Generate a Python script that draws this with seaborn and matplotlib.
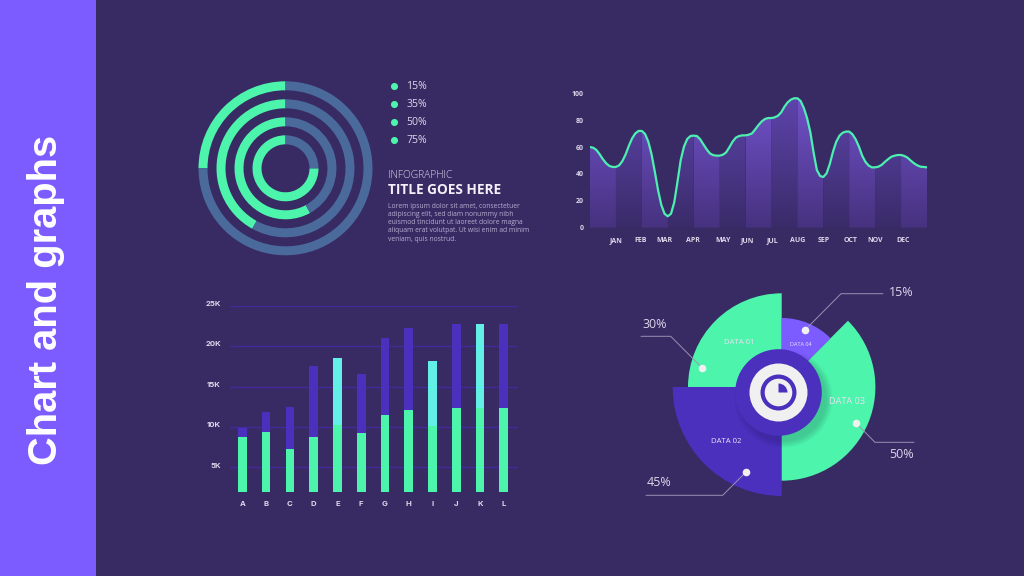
import numpy as np
import matplotlib
matplotlib.use("Agg")
import matplotlib.pyplot as plt
from matplotlib.colors import LinearSegmentedColormap
from matplotlib.patches import Circle, Rectangle
from matplotlib.transforms import ScaledTranslation
import seaborn as sns

# ring chart
ring_labels = ["15%", "35%", "50%", "75%"]
ring_share = [25, 42, 58, 75]
ring_outer = [87, 69, 51, 33]

# area chart, read every eighth of a month
month_labels = ["JAN", "FEB", "MAR", "APR", "MAY", "JUN", "JUL", "AUG", "SEP", "OCT", "NOV", "DEC"]
month_ticks = [1.0, 1.95, 2.88, 3.96, 5.12, 6.07, 7.04, 7.99, 9.01, 10.04, 11.0, 12.06]
curve_values = [
    60.0, 59.5, 57.8, 54.6, 50.9, 47.9, 45.9, 45.2,
    45.2, 46.4, 49.6, 54.6, 61.0, 66.5, 70.2, 72.0,
    72.0, 69.7, 64.0, 54.6, 41.7, 28.0, 17.0, 10.4,
    8.5, 10.4, 18.9, 34.2, 50.4, 60.3, 66.0, 68.2,
    68.5, 68.2, 65.8, 62.0, 58.3, 55.3, 54.0, 53.6,
    53.6, 54.3, 56.0, 59.8, 64.0, 67.0, 68.2, 68.7,
    68.7, 69.2, 70.2, 73.2, 76.4, 79.1, 80.9, 81.6,
    81.6, 82.1, 83.3, 85.8, 90.0, 93.3, 95.3, 96.3,
    96.3, 94.3, 89.0, 81.5, 71.0, 56.0, 43.0, 38.5,
    37.7, 40.4, 47.4, 56.6, 64.0, 68.5, 70.7, 71.5,
    71.5, 69.5, 65.7, 60.3, 53.6, 49.0, 46.2, 44.9,
    44.9, 45.4, 46.7, 49.0, 51.0, 52.8, 53.6, 54.1,
    54.1, 53.4, 52.1, 49.9, 47.9, 46.4, 45.4, 45.2,
    44.9,
]

# stacked bars
bar_labels = list("ABCDEFGHIJKL")
bar_lower = [8.8, 9.4, 7.3, 8.8, 10.2, 9.2, 11.5, 12.1, 10.1, 12.3, 12.3, 12.3]
bar_total = [9.9, 11.9, 12.5, 17.5, 18.5, 16.5, 21.0, 22.2, 18.2, 22.7, 22.7, 22.7]
bar_cyan = ["E", "I", "K"]
bar_ticks = [5, 10, 15, 20, 25]

# sector chart
sector_names = ["DATA 01", "DATA 02", "DATA 03", "DATA 04"]
sector_span = [90, 90, 135, 45]
sector_start = [90, 180, 270, 45]
sector_radius = [93.7, 109, 93.7, 69]
sector_pct = ["30%", "45%", "50%", "15%"]

BG = "#382a63"
SIDE = "#7d5cff"
GREEN = "#4df5ac"
RING = "#4a6a9c"
INDIGO = "#4a30bd"
CYAN = "#62efe6"
LIGHT = "#f0f0f0"
TEXT = "#dcd8ea"

W, H = 1024, 576

sns.set_theme(style="white")
plt.rcParams["font.family"] = ["Open Sans", "DejaVu Sans"]

fig = plt.figure(figsize=(W / 100, H / 100), dpi=100, facecolor=BG)


def panel(left, top, right, bottom):
    ax = fig.add_axes([left / W, 1 - bottom / H, (right - left) / W, (bottom - top) / H])
    ax.patch.set_alpha(0)
    return ax


# whole figure in pixels, y flipped so pies keep their direction
canvas = fig.add_axes([0, 0, 1, 1])
canvas.set_facecolor(BG)


def py(y):
    return H - y


canvas.add_patch(Rectangle((0, 0), 96, H, color=SIDE, lw=0))
canvas.text(46, py(300), "Chart and graphs", rotation=90, color="white", fontsize=28.7,
            fontweight="bold", family="Liberation Sans", ha="center", va="center")

# rings
ring_center = (285.5, py(168.3))
for share, outer in zip(ring_share, ring_outer):
    canvas.pie([share, 100 - share], startangle=90, radius=outer, center=ring_center,
               colors=[GREEN, RING], wedgeprops=dict(width=9, linewidth=0))

legend_y = [85.7, 104, 122, 140]
canvas.scatter([393.7] * 4, [py(y) for y in legend_y], s=26, color=GREEN, linewidths=0)
for label, y in zip(ring_labels, legend_y):
    canvas.text(406.5, py(y + 0.5), label, color=TEXT, fontsize=7.6, va="center")

canvas.text(388, py(175.5), "INFOGRAPHIC", color=TEXT, fontsize=7.4, fontweight="light", va="center")
canvas.text(388, py(190.5), "TITLE GOES HERE", color="#f2f0f8", fontsize=9.8, fontweight="bold", va="center")
body = [
    "Lorem ipsum dolor sit amet, consectetuer",
    "adipiscing elit, sed diam nonummy nibh",
    "euismod tincidunt ut laoreet dolore magna",
    "aliquam erat volutpat. Ut wisi enim ad minim",
    "veniam, quis nostrud.",
]
for i, line in enumerate(body):
    canvas.text(388, py(206 + i * 8.3), line, color="#b5aed0", fontsize=4.85, va="center")

# sectors
sector_center = (781.7, py(387))
sector_colors = [GREEN, INDIGO, GREEN, SIDE]
for span, start, radius, color in zip(sector_span, sector_start, sector_radius, sector_colors):
    canvas.pie([span, 360 - span], startangle=start, radius=radius, center=sector_center,
               colors=[color, "none"], wedgeprops=dict(linewidth=0))

hub = (778.5, py(392.5))
for k in range(8):
    canvas.add_patch(Circle((hub[0] + 5, hub[1] - 6), 43 + k * 0.9, color="#1c1440", alpha=0.025, lw=0))
canvas.add_patch(Circle(hub, 43.3, color=INDIGO, lw=0))
canvas.add_patch(Circle(hub, 29, color=LIGHT, lw=0))
canvas.add_patch(Circle(hub, 18, color=INDIGO, lw=0))
canvas.add_patch(Circle(hub, 13.8, color=LIGHT, lw=0))
canvas.pie([25, 75], startangle=0, radius=9, center=hub, colors=[INDIGO, "none"],
           wedgeprops=dict(linewidth=0))

leaders = [
    ([805, 841, 883], [330, 293.7, 293.7]),
    ([702, 670.7, 641], [367.7, 336.3, 336.3]),
    ([856, 875, 914], [423, 442.3, 442.3]),
    ([745.7, 722.7, 646], [472.3, 495.3, 495.3]),
]
for xs, ys in leaders:
    canvas.plot(xs, [py(y) for y in ys], color="#9a92b4", lw=0.7, zorder=3)
    canvas.scatter(xs[0], py(ys[0]), s=30, color=LIGHT, linewidths=0, zorder=4)

pct_pos = [(655, 324.7), (659.3, 482), (902, 455), (901, 292)]
for label, (x, y) in zip(sector_pct, pct_pos):
    canvas.text(x, py(y), label, color=TEXT, fontsize=9, ha="center", va="center")

name_pos = [(739, 343), (726, 441.3), (847.3, 401), (801, 344)]
name_size = [5.6, 5.6, 6.6, 4]
for name, (x, y), size in zip(sector_names, name_pos, name_size):
    canvas.text(x, py(y), name, color="#e6e3f0", fontsize=size, ha="center", va="center", zorder=5)

canvas.set_xlim(0, W)
canvas.set_ylim(0, H)
canvas.set_xticks([])
canvas.set_yticks([])
canvas.axis("off")
canvas.add_patch(Rectangle((0, 0), W, H, color=BG, lw=0, zorder=-10))

# area chart
line_ax = panel(590, 93.3, 927, 227.7)
curve_t = np.arange(len(curve_values)) * 0.125
curve_y = np.array(curve_values)
bright = LinearSegmentedColormap.from_list("bright", ["#46327f", "#7352cc"])
muted = LinearSegmentedColormap.from_list("muted", ["#3a2b69", "#5e45ad"])
ramp = np.linspace(1, 0, 64).reshape(-1, 1)
for m in range(13):
    chunk = (curve_t >= m) & (curve_t <= m + 1)
    band = line_ax.fill_between(curve_t[chunk], 0, curve_y[chunk], color="none", lw=0)
    img = line_ax.imshow(ramp, cmap=bright if m % 2 == 0 else muted, extent=(m, m + 1, 0, 100),
                         aspect="auto", vmin=0, vmax=1, zorder=1)
    img.set_clip_path(band.get_paths()[0], transform=line_ax.transData)
sns.lineplot(x=curve_t, y=curve_y, color="#4cf0b0", linewidth=1.6, ax=line_ax, zorder=3,
             estimator=None, solid_capstyle="round")
line_ax.set_xlim(0, 13)
line_ax.set_ylim(0, 100)
line_ax.set_xticks(month_ticks, month_labels)
line_ax.set_yticks([0, 20, 40, 60, 80, 100])
line_ax.set_xlabel("")
line_ax.set_ylabel("")
line_ax.tick_params(axis="x", length=0, pad=10, labelsize=5, labelcolor=TEXT)
line_ax.tick_params(axis="y", length=0, pad=4.5, labelsize=5, labelcolor=TEXT)
for lab in line_ax.get_xticklabels():
    lab.set_verticalalignment("baseline")
for lab in line_ax.get_xticklabels() + line_ax.get_yticklabels():
    lab.set_fontweight("bold")
sns.despine(ax=line_ax, left=True, bottom=True)

# stacked bars
bar_ax = panel(230, 305.7, 518, 491.7)
top_palette = [CYAN if b in bar_cyan else INDIGO for b in bar_labels]
sns.barplot(x=bar_labels, y=bar_total, hue=bar_labels, palette=top_palette, legend=False,
            width=0.365, saturation=1, linewidth=0, ax=bar_ax, zorder=2)
sns.barplot(x=bar_labels, y=bar_lower, color=GREEN, width=0.365, saturation=1, linewidth=0,
            ax=bar_ax, zorder=3)
bar_ax.set_xlim(-0.52, 11.6)
bar_ax.set_ylim(2, 25)
bar_ax.set_yticks(bar_ticks, [f"{t}K" for t in bar_ticks])
bar_ax.yaxis.grid(True, color="#44299a", lw=1.0)
bar_ax.set_axisbelow(True)
bar_ax.set_xlabel("")
bar_ax.set_ylabel("")
bar_ax.tick_params(axis="x", length=0, pad=6.5, labelsize=5.6, labelcolor=TEXT)
bar_ax.tick_params(axis="y", length=0, pad=6.5, labelsize=5.6, labelcolor=TEXT)
for lab in bar_ax.get_xticklabels() + bar_ax.get_yticklabels():
    lab.set_fontweight("bold")
    lab.set_family("Inter")
# the K labels sit a little above their grid lines
lift = ScaledTranslation(0, 2.3 / 100, fig.dpi_scale_trans)
for lab in bar_ax.get_yticklabels():
    lab.set_transform(lab.get_transform() + lift)
sns.despine(ax=bar_ax, left=True, bottom=True)

fig.savefig("out.png", dpi=100, facecolor=BG)
